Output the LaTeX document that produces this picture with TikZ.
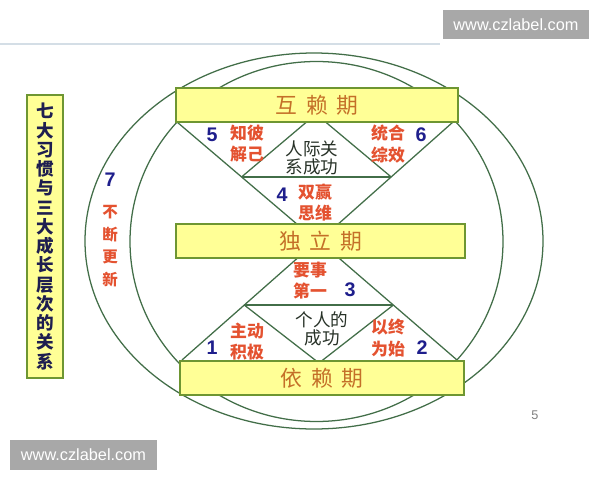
\documentclass[tikz,border=0pt]{standalone}
\usepackage{fontspec}
\usetikzlibrary{calc}
\setmainfont{Liberation Sans}
\newfontfamily\cjk{Noto Sans CJK SC}
\definecolor{lineg}{RGB}{66,110,72}
\definecolor{boxborder}{RGB}{110,150,50}
\definecolor{boxfill}{RGB}{255,255,150}
\definecolor{boxtext}{RGB}{196,112,40}
\definecolor{redt}{RGB}{228,82,48}
\definecolor{bluet}{RGB}{30,30,140}
\definecolor{blackt}{RGB}{40,50,40}
\definecolor{navyt}{RGB}{30,30,80}
\definecolor{wmgray}{RGB}{168,168,168}
\definecolor{topline}{RGB}{212,222,230}
\begin{document}
\begin{tikzpicture}[x=0.025cm,y=-0.025cm,
  gline/.style={draw=lineg,line width=0.9pt},
  stagebox/.style={draw=boxborder,fill=boxfill,line width=1pt,minimum height=0.85cm,inner sep=0pt,
    font=\cjk\fontsize{15.5}{18}\selectfont,text=boxtext},
  redtxt/.style={font=\cjk\bfseries\fontsize{12}{15}\selectfont,text=redt,align=center,inner sep=0pt},
  blktxt/.style={font=\cjk\fontsize{12.5}{12.5}\selectfont,text=blackt,align=center,inner sep=0pt},
  bnum/.style={font=\bfseries\fontsize{14}{16}\selectfont,text=bluet,inner sep=0pt},
  wmark/.style={fill=wmgray,text=white,font=\fontsize{11.6}{13}\selectfont,inner sep=0pt}]
\useasboundingbox (0,0) rectangle (600,480);
\fill[white] (0,0) rectangle (600,480);
% faint top line
\coordinate (L1) at (0,44);
\coordinate (L2) at (440,44);
\draw[color=topline,line width=0.8pt] (L1) -- (L2);
% ellipses
\draw[gline] (314,241) ellipse [x radius=229, y radius=188];
\draw[gline] (316.5,241.5) ellipse [x radius=186.5, y radius=180];
% upper triangle
\coordinate (A1) at (177,122);
\coordinate (A2) at (453,122);
\coordinate (A3) at (318,242);
\coordinate (M1) at ($(A1)!0.458!(A3)$);
\coordinate (M2) at ($(A2)!0.458!(A3)$);
\coordinate (T1) at (316,114);
\draw[gline] (A1) -- (A3) -- (A2);
\draw[gline] (M1) -- (M2);
\draw[gline] (M1) -- (T1) -- (M2);
% lower triangle
\coordinate (B1) at (182,360);
\coordinate (B2) at (457,360);
\coordinate (B3) at (318,240);
\coordinate (N1) at ($(B1)!0.458!(B3)$);
\coordinate (N2) at ($(B2)!0.458!(B3)$);
\coordinate (T2) at (319,363);
\draw[gline] (B1) -- (B3) -- (B2);
\draw[gline] (N1) -- (N2);
\draw[gline] (N1) -- (T2) -- (N2);
% stage boxes
\node[stagebox,minimum width=7.05cm] (hulai) at (317,105) {互\hspace{0.4em}赖\hspace{0.4em}期};
\node[stagebox,minimum width=7.225cm] (duli) at (320.5,241) {独\hspace{0.4em}立\hspace{0.4em}期};
\node[stagebox,minimum width=7.1cm] (yilai) at (322,378) {依\hspace{0.4em}赖\hspace{0.4em}期};
% left title
\node[draw=boxborder,fill=boxfill,line width=1pt,minimum width=0.9cm,minimum height=7.075cm,inner sep=0pt,
  font=\cjk\bfseries\fontsize{12.5}{13.7}\selectfont,text=navyt,align=center] (title) at (45,236.5)
  {七\\大\\习\\惯\\与\\三\\大\\成\\长\\层\\次\\的\\关\\系};
% habit 7
\node[bnum] (n7) at (110,180) {7};
\node[font=\cjk\bfseries\fontsize{11}{16}\selectfont,text=redt,align=center,inner sep=0pt] (h7) at (110,246) {不\\断\\更\\新};
% upper labels
\node[bnum] (n5) at (212,135) {5};
\node[redtxt] (h5) at (247,144) {知彼\\解己};
\node[blktxt] (rj) at (312,158) {人际关\\系成功};
\node[redtxt] (h6) at (388,144) {统合\\综效};
\node[bnum] (n6) at (421,135) {6};
\node[bnum] (n4) at (282,195) {4};
\node[redtxt] (h4) at (315,203) {双赢\\思维};
% lower labels
\node[redtxt] (h3) at (310,281) {要事\\第一};
\node[bnum] (n3) at (350,290) {3};
\node[redtxt] (h1) at (247,342) {主动\\积极};
\node[bnum] (n1) at (212,348) {1};
\node[blktxt] (gr) at (322,329) {个人的\\成功};
\node[redtxt] (h2) at (388,338) {以终\\为始};
\node[bnum] (n2) at (422,348) {2};
% page number
\node[font=\fontsize{9}{10}\selectfont,text=gray,inner sep=0pt] (pg) at (535,415) {5};
% watermarks
\node[wmark,minimum width=3.65cm,minimum height=0.725cm] (wm1) at (516,24.5) {www.czlabel.com};
\node[wmark,minimum width=3.675cm,minimum height=0.75cm] (wm2) at (83.5,455) {www.czlabel.com};
\end{tikzpicture}
\end{document}
